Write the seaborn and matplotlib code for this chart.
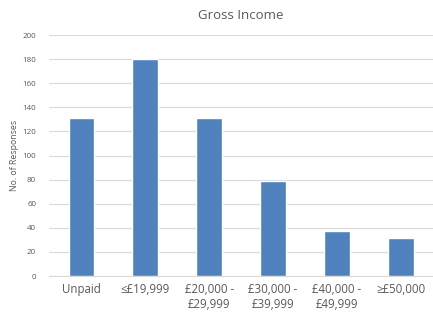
import pandas as pd
import matplotlib.pyplot as plt
import seaborn as sns

# Data
categories = ['Unpaid', '≤£19,999', '£20,000 -\n£29,999', '£30,000 -\n£39,999', '£40,000 -\n£49,999', '≥£50,000']
responses = [131, 180, 131, 79, 37, 32]
yticks = [0, 20, 40, 60, 80, 100, 120, 140, 160, 180, 200]

df = pd.DataFrame({'income': categories, 'responses': responses})

sns.set_style('white')
plt.rcParams['font.family'] = ['Open Sans', 'DejaVu Sans']
text_grey = '#595959'

fig = plt.figure(figsize=(4.33, 3.13), dpi=100)
ax = fig.add_axes([0.114, 0.118, 0.886, 0.770])

sns.barplot(data=df, x='income', y='responses', color='#4F81BD', saturation=1,
            width=0.4, ax=ax, zorder=3)

ax.set_ylim(0, 200)
ax.set_xlim(-0.5, 5.5)
ax.set_yticks(yticks)
ax.yaxis.grid(True, color='#D9D9D9', linewidth=0.8, zorder=0)
ax.set_axisbelow(True)

for side in ['top', 'right', 'left']:
    ax.spines[side].set_visible(False)
ax.spines['bottom'].set_color('#D9D9D9')
ax.spines['bottom'].set_linewidth(0.8)

ax.tick_params(axis='y', labelsize=5.8, colors=text_grey, length=0, pad=9.5)
ax.tick_params(axis='x', labelsize=8.3, colors=text_grey, length=0, pad=5)
ax.set_xlabel('')
ax.set_ylabel('No. of Responses', fontsize=6.3, color=text_grey)
ax.yaxis.set_label_coords(-0.08, 0.5)
fig.text(0.557, 0.95, 'Gross Income', ha='center', va='center', fontsize=9.5, color=text_grey)

plt.savefig('out.png', dpi=100)
plt.close()
